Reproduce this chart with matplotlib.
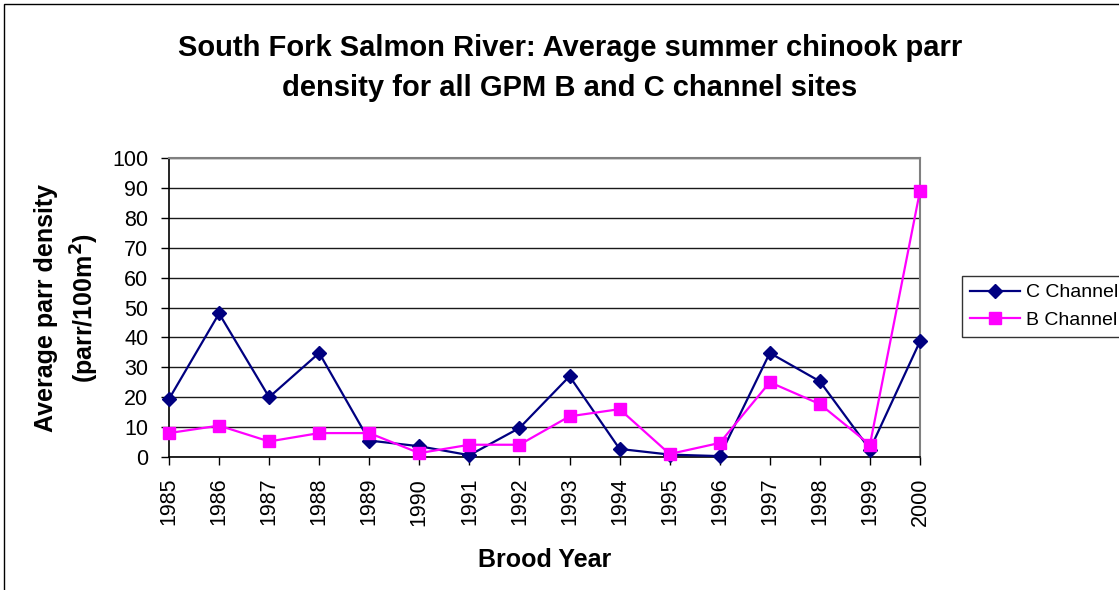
import matplotlib.pyplot as plt
import matplotlib.patches as mpatches

plt.rcParams['font.family'] = ['Liberation Sans', 'DejaVu Sans']

# ── DATA ─────────────────────────────────────────────────────────────────────
years     = [str(y) for y in range(1985, 2001)]
c_channel = [19.4, 48.0, 20.0, 34.8, 5.5, 3.6, 0.6, 9.7,
             27.0, 2.7, 0.8, 0.3, 34.8, 25.3, 2.5, 38.7]
b_channel = [8.0, 10.5, 5.2, 8.0, 8.0, 1.3, 4.1, 4.1,
             13.6, 16.0, 1.0, 4.7, 25.0, 17.7, 4.1, 89.0]
y_ticks   = list(range(0, 101, 10))

# ── CHART ────────────────────────────────────────────────────────────────────
fig = plt.figure(figsize=(11.19, 5.90), dpi=100)
fig.patch.set_facecolor('white')

# outer chart-area border (right/bottom fall outside the canvas)
fig.add_artist(mpatches.Rectangle((4 / 1119, -0.2), 1.3, 1.2 - 4 / 590,
                                  transform=fig.transFigure, fill=False,
                                  edgecolor='black', linewidth=1.0))

ax = fig.add_axes([169 / 1119, 1 - 457 / 590, 751 / 1119, 299 / 590])
x = list(range(len(years)))

ax.plot(x, c_channel, color='#000080', linewidth=1.6, marker='D',
        markersize=7.5, label='C Channel', zorder=3, clip_on=False)
ax.plot(x, b_channel, color='#FF00FF', linewidth=1.6, marker='s',
        markersize=9, label='B Channel', zorder=3, clip_on=False)

ax.set_xlim(0, len(years) - 1)
ax.set_ylim(0, 100)
ax.set_yticks(y_ticks)
ax.set_xticks(x)
ax.set_xticklabels(years, rotation=90)
ax.tick_params(axis='both', direction='out', labelsize=15.5, length=6,
               width=1, color='black')
ax.tick_params(axis='y', pad=9)
ax.tick_params(axis='x', pad=9)

ax.yaxis.grid(True, color='#1a1a1a', linewidth=1.0)
ax.set_axisbelow(True)
for side in ['left', 'bottom']:
    ax.spines[side].set_color('black')
    ax.spines[side].set_linewidth(1.2)
for side in ['right', 'top']:
    ax.spines[side].set_color('#808080')
    ax.spines[side].set_linewidth(1.5)

ax.set_xlabel('Brood Year', fontsize=18, fontweight='bold', labelpad=16)
ax.set_ylabel('Average parr density\n(parr/100m$^\\mathbf{2}$)', fontsize=18,
              fontweight='bold', labelpad=8, linespacing=1.45)

fig.text(570 / 1119, 1 - 68 / 590,
         'South Fork Salmon River: Average summer chinook parr\n'
         'density for all GPM B and C channel sites',
         ha='center', va='center', fontsize=21, fontweight='bold',
         linespacing=1.55)

leg = ax.legend(loc='upper left', bbox_to_anchor=(962 / 1119, 1 - 276 / 590),
                bbox_transform=fig.transFigure, fontsize=14, frameon=True,
                fancybox=False, handlelength=2.6, handletextpad=0.3,
                borderpad=0.4, labelspacing=0.5, borderaxespad=0)
leg.get_frame().set_edgecolor('black')
leg.get_frame().set_linewidth(1.0)

plt.savefig('out.png', dpi=100, facecolor=fig.get_facecolor())
